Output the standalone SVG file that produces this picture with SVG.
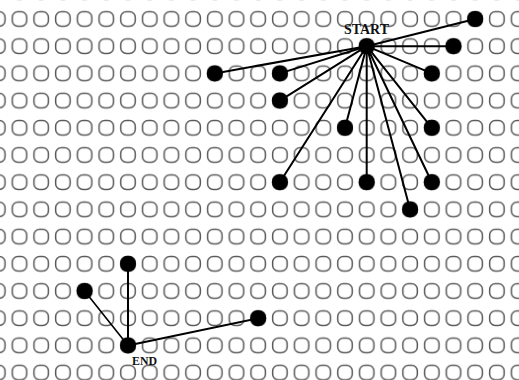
<svg xmlns="http://www.w3.org/2000/svg" width="519" height="380" viewBox="0 0 519 380">
  <style>
    .hole { fill: none; stroke: #5a5a5a; stroke-width: 1.5; }
    .node { fill: #000; }
    .edge { stroke: #000; stroke-width: 2; stroke-linecap: round; fill: none; }
    .thin { stroke-width: 1.6; }
    .label { font-family: "Liberation Serif", "Times New Roman", serif; font-weight: bold; fill: #111; }
  </style>
  <defs>
    <!-- one empty peg hole per cell: 21.7 x 27.2 grid, first hole centred at (19.5, 19) -->
    <pattern id="holes" patternUnits="userSpaceOnUse" x="8.65" y="5.4" width="21.7" height="27.2">
      <rect class="hole" x="3.6" y="6.35" width="14.5" height="14.5" rx="5.6" ry="5.6"/>
    </pattern>
  </defs>

  <rect width="519" height="380" fill="#fff"/>
  <rect id="grid" width="519" height="380" fill="url(#holes)"/>

  <g id="connectors">
    <!-- fan from START -->
    <line class="edge" x1="366.7" y1="46.2" x2="475.2" y2="19"/>
    <line class="edge" x1="366.7" y1="46.2" x2="453.5" y2="46.2"/>
    <line class="edge" x1="366.7" y1="46.2" x2="214.8" y2="73.4"/>
    <line class="edge" x1="366.7" y1="46.2" x2="279.9" y2="73.4"/>
    <line class="edge" x1="366.7" y1="46.2" x2="431.8" y2="73.4"/>
    <line class="edge" x1="366.7" y1="46.2" x2="279.9" y2="100.6"/>
    <line class="edge" x1="366.7" y1="46.2" x2="345" y2="127.8"/>
    <line class="edge" x1="366.7" y1="46.2" x2="431.8" y2="127.8"/>
    <line class="edge" x1="366.7" y1="46.2" x2="279.9" y2="182.2"/>
    <line class="edge" x1="366.7" y1="46.2" x2="366.7" y2="182.2"/>
    <line class="edge" x1="366.7" y1="46.2" x2="431.8" y2="182.2"/>
    <line class="edge" x1="366.7" y1="46.2" x2="410.1" y2="209.4"/>
    <!-- fan into END -->
    <line class="edge" x1="128" y1="345.4" x2="128" y2="263.8"/>
    <line class="edge thin" x1="128" y1="345.4" x2="84.6" y2="291"/>
    <line class="edge" x1="128" y1="345.4" x2="258.2" y2="318.2"/>
  </g>

  <g id="start">
    <circle class="node" cx="366.7" cy="46.2" r="8"/>
    <text class="label" x="344" y="33.5" font-size="14" textLength="45" lengthAdjust="spacingAndGlyphs">START</text>
  </g>
  <g id="end">
    <circle class="node" cx="128" cy="345.4" r="8"/>
    <text class="label" x="132" y="365" font-size="12.5" textLength="25" lengthAdjust="spacingAndGlyphs">END</text>
  </g>

  <g id="n-21-0"><circle class="node" cx="475.2" cy="19" r="8"/></g>
  <g id="n-20-1"><circle class="node" cx="453.5" cy="46.2" r="8"/></g>
  <g id="n-9-2"><circle class="node" cx="214.8" cy="73.4" r="8"/></g>
  <g id="n-12-2"><circle class="node" cx="279.9" cy="73.4" r="8"/></g>
  <g id="n-19-2"><circle class="node" cx="431.8" cy="73.4" r="8"/></g>
  <g id="n-12-3"><circle class="node" cx="279.9" cy="100.6" r="8"/></g>
  <g id="n-15-4"><circle class="node" cx="345" cy="127.8" r="8"/></g>
  <g id="n-19-4"><circle class="node" cx="431.8" cy="127.8" r="8"/></g>
  <g id="n-12-6"><circle class="node" cx="279.9" cy="182.2" r="8"/></g>
  <g id="n-16-6"><circle class="node" cx="366.7" cy="182.2" r="8"/></g>
  <g id="n-19-6"><circle class="node" cx="431.8" cy="182.2" r="8"/></g>
  <g id="n-18-7"><circle class="node" cx="410.1" cy="209.4" r="8"/></g>
  <g id="n-5-9"><circle class="node" cx="128" cy="263.8" r="8"/></g>
  <g id="n-3-10"><circle class="node" cx="84.6" cy="291" r="8"/></g>
  <g id="n-11-11"><circle class="node" cx="258.2" cy="318.2" r="8"/></g>
</svg>
